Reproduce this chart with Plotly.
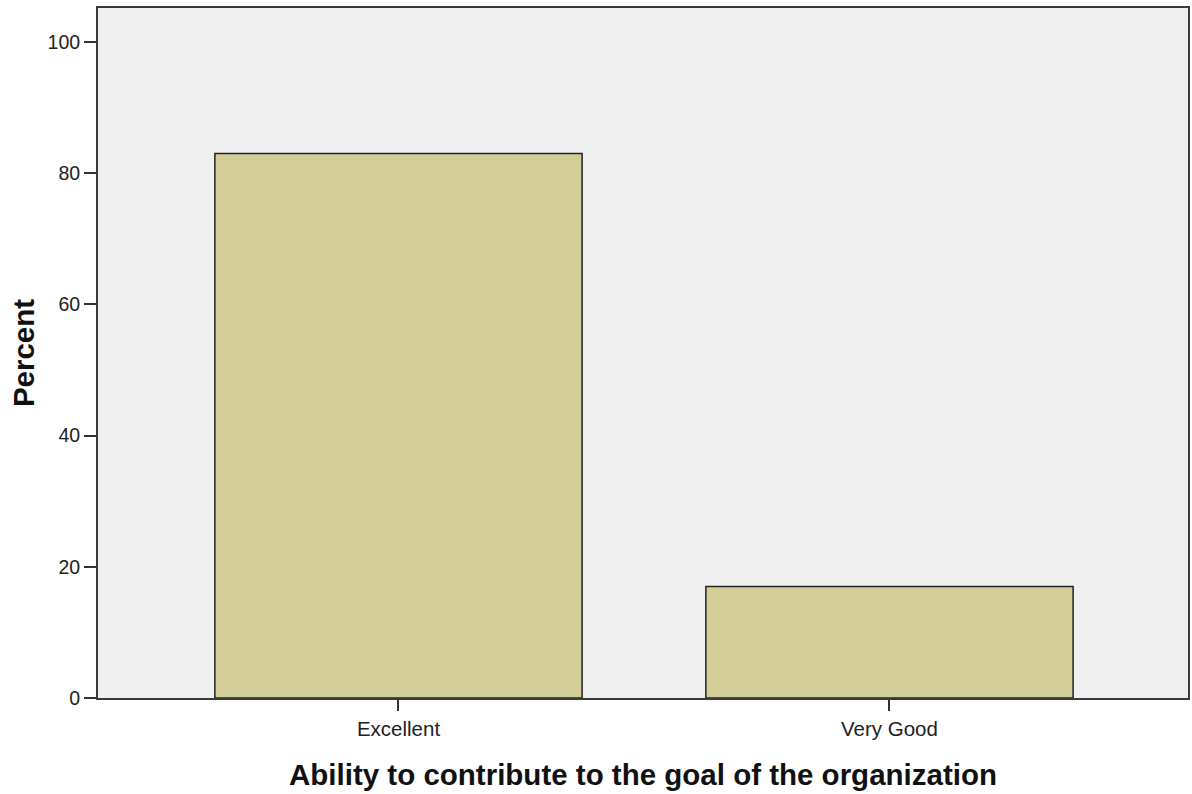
import plotly.graph_objects as go

categories = ["Excellent", "Very Good"]
percent = [83.0, 17.0]
y_ticks = [0, 20, 40, 60, 80, 100]

fig = go.Figure(
    go.Bar(
        x=[0, 1],
        y=percent,
        width=0.748,
        marker=dict(color="#D3CE98", line=dict(color="#222222", width=1.5)),
        hoverinfo="skip",
    )
)

fig.update_layout(
    width=1192,
    height=794,
    margin=dict(l=98, r=2, t=8, b=96),
    paper_bgcolor="white",
    plot_bgcolor="#F0F0F0",
    showlegend=False,
    font=dict(family="Liberation Sans, Arial, sans-serif", color="#222222"),
)

fig.update_xaxes(
    range=[-0.612, 1.608],
    tickvals=[0, 1],
    ticktext=categories,
    ticks="outside",
    ticklen=11,
    tickwidth=1.5,
    tickcolor="#333333",
    tickfont=dict(size=20.5),
    showline=True,
    linecolor="#3a3a3a",
    linewidth=2,
    mirror=True,
    showgrid=False,
    zeroline=False,
    title=dict(
        text="<b>Ability to contribute to the goal of the organization</b>",
        font=dict(size=29.5, color="#111111"),
        standoff=26,
    ),
)

fig.update_yaxes(
    range=[0, 105.2],
    tickvals=y_ticks,
    ticks="outside",
    ticklen=12,
    tickwidth=1.5,
    tickcolor="#333333",
    tickfont=dict(size=19.5),
    showline=True,
    linecolor="#3a3a3a",
    linewidth=2,
    mirror=True,
    showgrid=False,
    zeroline=False,
    title=dict(text="<b>Percent</b>", font=dict(size=29.5, color="#111111"), standoff=4),
)

fig.write_html("out.html")
